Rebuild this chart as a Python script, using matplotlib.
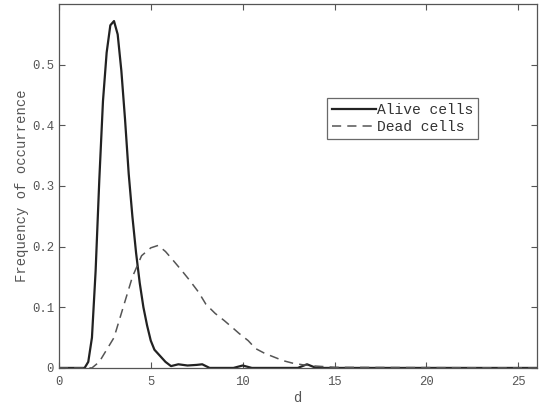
import matplotlib
matplotlib.use("Agg")
import matplotlib.pyplot as plt

# Distance distributions
alive_d = [0, 1.4, 1.6, 1.8, 2.0, 2.2, 2.4, 2.6, 2.8, 3.0, 3.2, 3.4, 3.6, 3.8,
           4.0, 4.2, 4.4, 4.6, 4.8, 5.0, 5.2, 5.5, 5.8, 6.1, 6.5, 7.0, 7.5,
           7.8, 8.2, 9.5, 10.0, 10.5, 13.0, 13.5, 14.0, 26]
alive_freq = [0, 0, 0.01, 0.05, 0.16, 0.31, 0.44, 0.52, 0.565, 0.572, 0.55,
              0.49, 0.41, 0.32, 0.25, 0.19, 0.14, 0.10, 0.07, 0.045, 0.03,
              0.02, 0.01, 0.003, 0.006, 0.004, 0.005, 0.006, 0, 0, 0.004, 0,
              0, 0.006, 0, 0]

dead_d = [0, 1.8, 2.2, 2.6, 3.0, 3.5, 4.0, 4.5, 5.0, 5.4, 5.8, 6.2, 6.7, 7.1,
          7.6, 8.0, 8.5, 9.0, 9.5, 9.8, 10.3, 10.7, 11.2, 11.7, 12.2, 12.7,
          13.3, 14.0, 15.0, 26]
dead_freq = [0, 0, 0.01, 0.03, 0.05, 0.10, 0.15, 0.185, 0.198, 0.202, 0.192,
             0.178, 0.16, 0.145, 0.125, 0.105, 0.09, 0.078, 0.065, 0.057,
             0.045, 0.032, 0.024, 0.018, 0.012, 0.008, 0.005, 0.003, 0.001, 0]

xticks = [0, 5, 10, 15, 20, 25]
yticks = [0, 0.1, 0.2, 0.3, 0.4, 0.5]
ytick_labels = ["0", "0.1", "0.2", "0.3", "0.4", "0.5"]

plt.rcParams["font.family"] = ["Liberation Mono", "DejaVu Sans Mono"]
txt = "#555555"

fig = plt.figure(figsize=(5.4, 4.07), dpi=100)
ax = fig.add_axes([0.109, 0.096, 0.885, 0.894])

ax.plot(alive_d, alive_freq, color="#222222", lw=1.6, label="Alive cells")
ax.plot(dead_d, dead_freq, color="#555555", lw=1.1, dashes=(6, 4),
        label="Dead cells")

ax.set_xlim(0, 26)
ax.set_ylim(0, 0.6)
ax.set_xticks(xticks)
ax.set_yticks(yticks)
ax.set_yticklabels(ytick_labels)
ax.tick_params(direction="in", top=True, right=True, length=4, width=0.8,
               colors=txt, labelsize=8.8, labelcolor=txt)
ax.tick_params(axis="x", pad=6)
for s in ax.spines.values():
    s.set_color("#555555")
    s.set_linewidth(0.9)

ax.set_xlabel("d", color=txt, fontsize=10, labelpad=2)
ax.set_ylabel("Frequency of occurrence", color=txt, fontsize=10, labelpad=2)

leg = ax.legend(loc="upper right", bbox_to_anchor=(0.893, 0.762),
                fontsize=10.5, frameon=True, fancybox=False, handlelength=3.0,
                handletextpad=0.1, borderpad=0.35, labelspacing=0.2)
leg.get_frame().set_edgecolor("#444444")
leg.get_frame().set_linewidth(0.9)
for t in leg.get_texts():
    t.set_color("#333333")

fig.savefig("out.png", dpi=100)
